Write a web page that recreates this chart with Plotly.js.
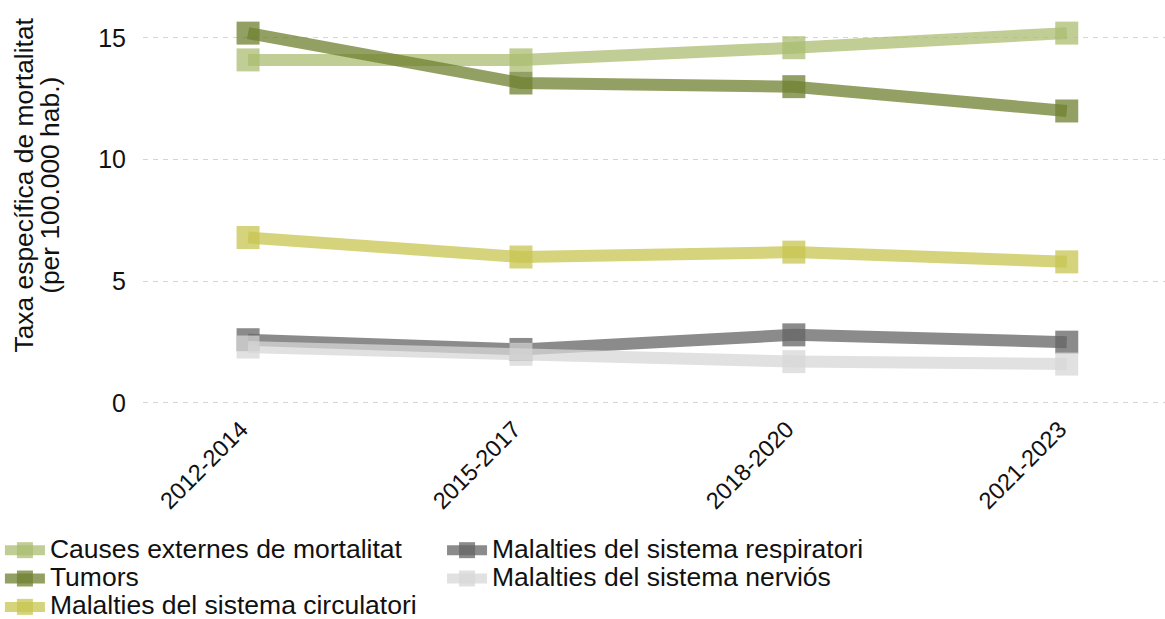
<!DOCTYPE html>
<html>
<head>
<meta charset="utf-8">
<script src="https://cdn.plot.ly/plotly-3.0.1.min.js"></script>
<style>html,body{margin:0;padding:0;background:#fff;}#chart{width:1165px;height:619px;}</style>
</head>
<body>
<div id="chart"></div>
<script>
// ---- data ----
var periods = ['2012-2014', '2015-2017', '2018-2020', '2021-2023'];
var seriesNames = [
  'Causes externes de mortalitat',
  'Tumors',
  'Malalties del sistema circulatori',
  'Malalties del sistema respiratori',
  'Malalties del sistema nerviós'
];
var causesExternes = [14.1, 14.1, 14.6, 15.2];
var tumors = [15.2, 13.15, 13.0, 12.0];
var circulatori = [6.8, 6.0, 6.2, 5.8];
var respiratori = [2.6, 2.2, 2.8, 2.5];
var nervios = [2.3, 2.0, 1.7, 1.6];
var yTickVals = [0, 5, 10, 15];
var yTickText = ['0', '5', '10', '15'];
var yTitleLines = ['Taxa específica de mortalitat', '(per 100.000 hab.)'];

// ---- styling ----
var seriesValues = [causesExternes, tumors, circulatori, respiratori, nervios];
var seriesColors = [
  'rgba(171,188,112,0.75)',
  'rgba(111,128,48,0.75)',
  'rgba(199,198,80,0.75)',
  'rgba(100,100,100,0.75)',
  'rgba(215,215,215,0.75)'
];
var legendOf = ['legend', 'legend', 'legend', 'legend2', 'legend2'];

var traces = seriesValues.map(function (vals, i) {
  return {
    type: 'scatter',
    mode: 'lines+markers',
    x: periods,
    y: vals,
    name: '<span style="font-size:26.5px">' + seriesNames[i] + '</span>',
    legend: legendOf[i],
    line: { color: seriesColors[i], width: 12 },
    marker: { symbol: 'square', size: 23, color: seriesColors[i] },
    hoverinfo: 'x+y'
  };
});

var textColor = '#111111';
var legendCommon = {
  yanchor: 'top',
  orientation: 'v',
  bgcolor: 'rgba(0,0,0,0)',
  borderwidth: 0,
  itemwidth: 40,
  font: { size: 19.5, color: textColor },
  traceorder: 'normal'
};
var layout = {
  width: 1165,
  height: 619,
  margin: { l: 143, r: 0, t: 10, b: 209, autoexpand: false },
  paper_bgcolor: '#ffffff',
  plot_bgcolor: '#ffffff',
  font: { family: 'Liberation Sans, Arial, sans-serif', color: textColor },
  xaxis: {
    type: 'category',
    range: [-0.385, 3.36],
    showgrid: false,
    zeroline: false,
    showline: false,
    ticks: '',
    tickangle: -45,
    ticklabelshift: -7,
    tickfont: { size: 23.5, color: textColor },
    automargin: false
  },
  yaxis: {
    range: [-0.288, 16.15],
    tickvals: yTickVals,
    ticktext: yTickText,
    showgrid: true,
    gridcolor: '#d4d4d4',
    gridwidth: 1,
    griddash: '5px,5px',
    zeroline: false,
    showline: false,
    ticks: '',
    ticklabelstandoff: 16,
    tickfont: { size: 25, color: textColor },
    automargin: false
  },
  annotations: [{
    xref: 'paper', yref: 'paper',
    x: -0.1042, y: 0.5625,
    xanchor: 'center', yanchor: 'middle',
    textangle: -90,
    showarrow: false,
    align: 'center',
    font: { size: 20.7, color: textColor },
    text: yTitleLines.map(function (t) { return '<span style="font-size:26.4px">' + t + '</span>'; }).join('<br>')
  }],
  showlegend: true,
  legend: Object.assign({ x: -0.14, xanchor: 'left', y: -0.3025 }, legendCommon),
  legend2: Object.assign({ x: 0.2926, xanchor: 'left', y: -0.3025 }, legendCommon)
};

Plotly.newPlot('chart', traces, layout, { displayModeBar: false, staticPlot: true });
</script>
</body>
</html>
